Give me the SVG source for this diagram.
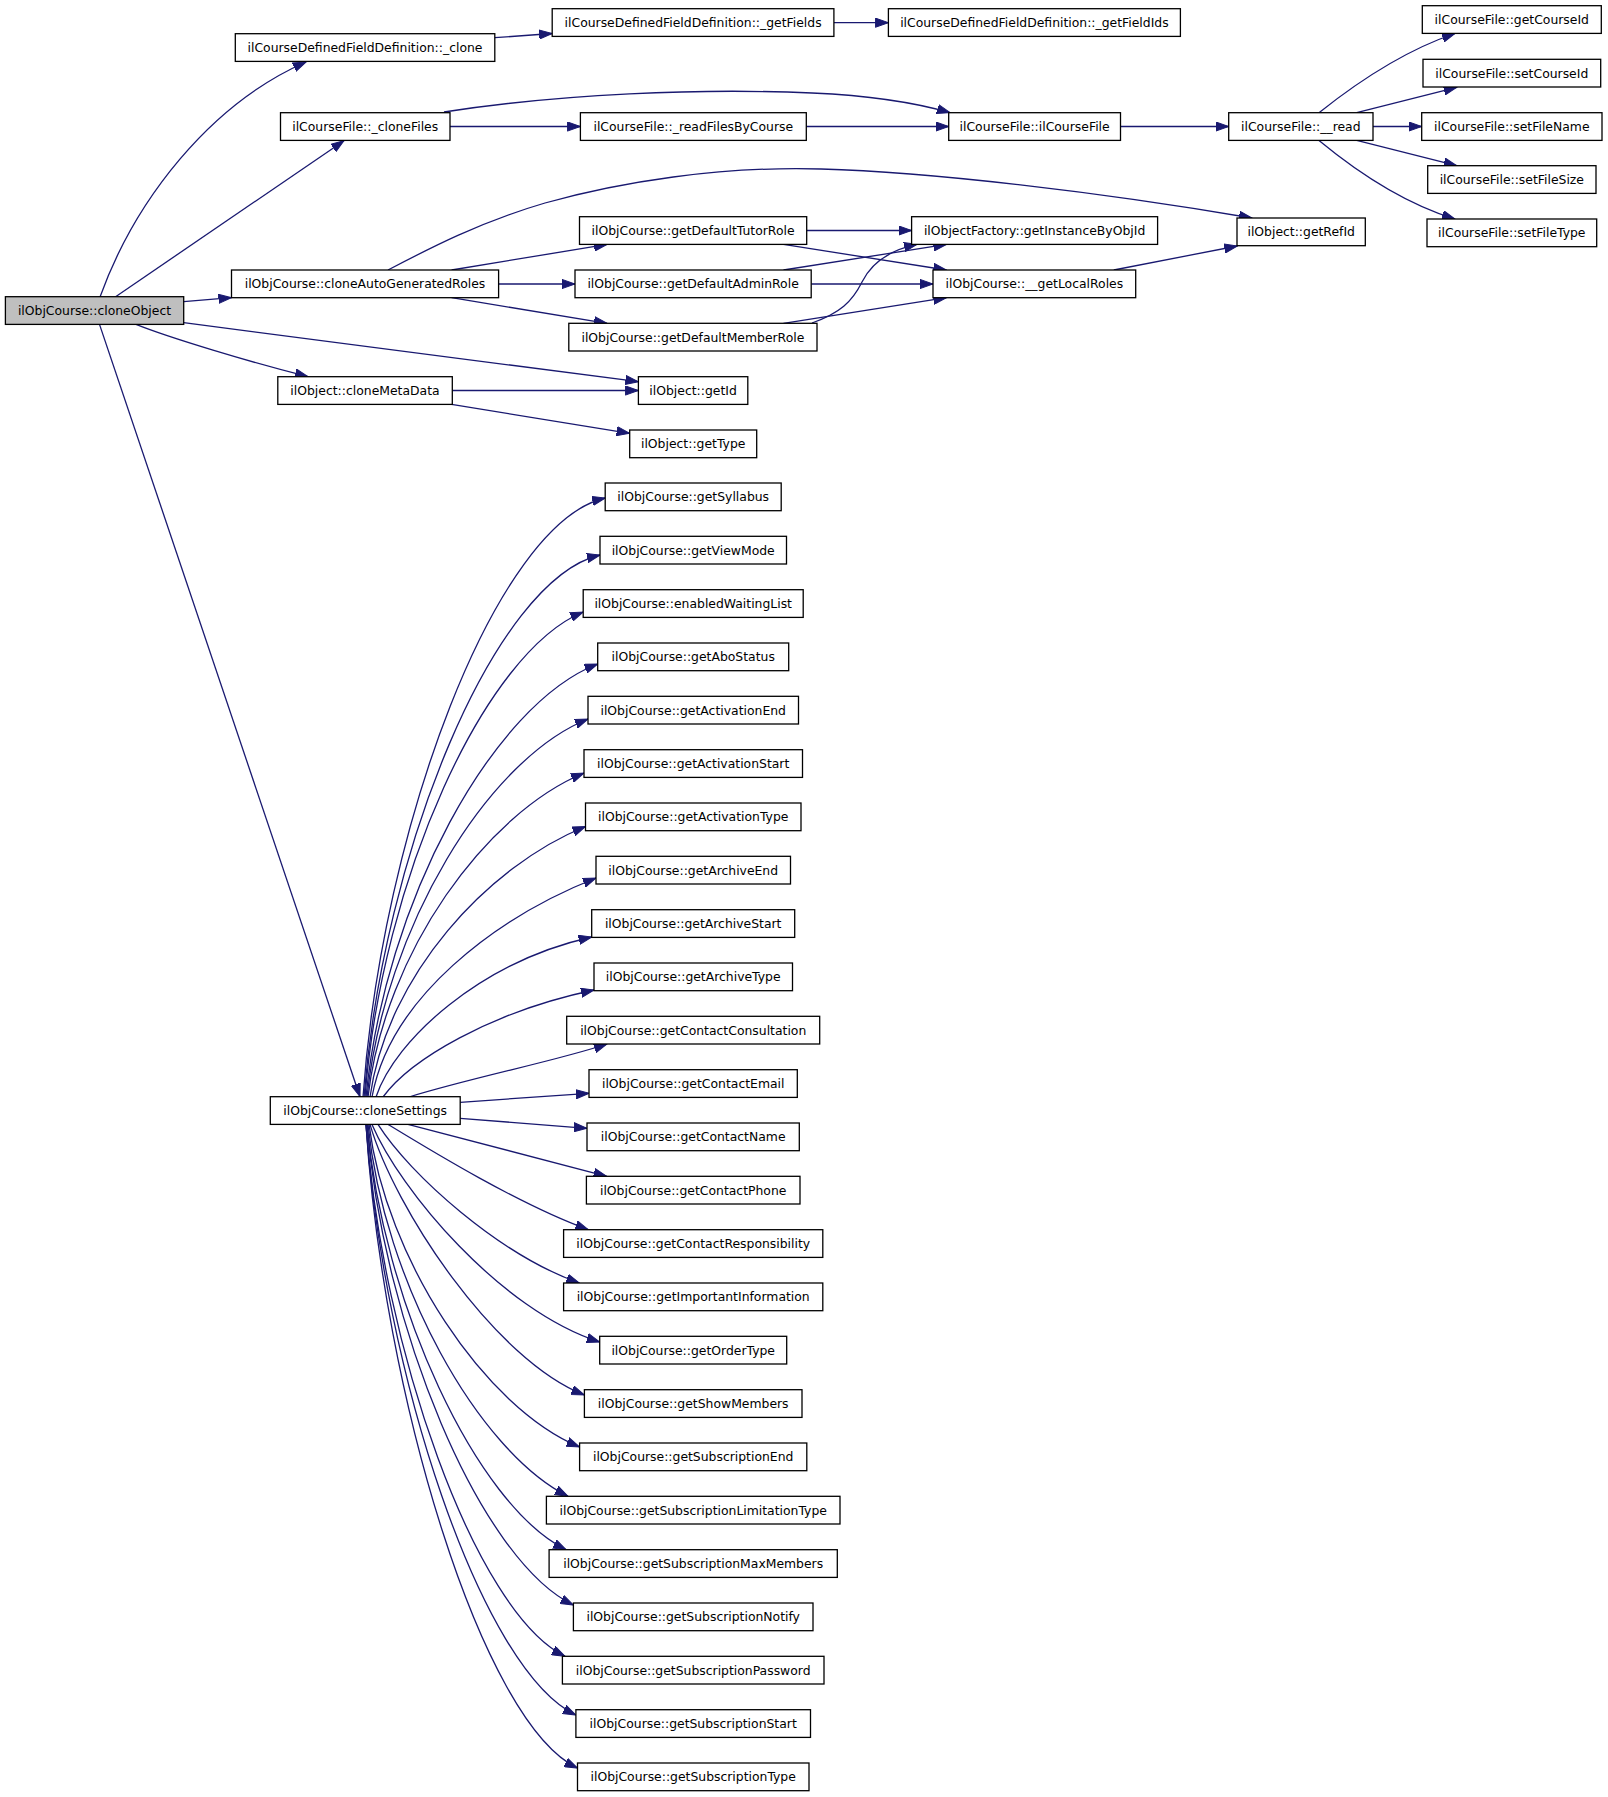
<svg xmlns="http://www.w3.org/2000/svg" width="1608" height="1797" viewBox="0 0 1608 1797">
<defs>
<style>
.node rect{fill:#ffffff;stroke:#000000;stroke-width:1.3}
.node.root rect{fill:#bfbfbf}
.node text{font-family:"DejaVu Sans","Liberation Sans",sans-serif;font-size:12.4px;text-anchor:middle;fill:#000000}
.edges path{fill:none;stroke:#191970;stroke-width:1.3;marker-end:url(#arr)}
</style>
<marker id="arr" markerUnits="userSpaceOnUse" markerWidth="14" markerHeight="10" refX="13" refY="5" orient="auto" viewBox="0 0 14 10">
<path d="M0,0.4 L13,5 L0,9.6 z" fill="#191970" stroke="#191970" stroke-width="1"/>
</marker>
</defs>
<rect width="1608" height="1797" fill="#ffffff"/>
<g id="connectors" class="edges">
<path d="M100,297 C135,200 210,104 306,62"/>
<path d="M115.6,296.7 L344,140.7"/>
<path d="M183.7,301.7 L231.5,297.7"/>
<path d="M183.7,322.7 L638.4,381.7"/>
<path d="M136,324.4 C170,338 250,362 308,376.7"/>
<path d="M99.5,324.4 L360,1096.7"/>
<path d="M494.8,37.7 L552.2,33.5"/>
<path d="M833.9,22.7 L888.4,22.7"/>
<path d="M444,112 C560,94 700,88 812,93 C880,96 920,104 950,112.7"/>
<path d="M450,126.5 L580.4,126.5"/>
<path d="M806.3,126.5 L948.7,126.5"/>
<path d="M1120.5,126.5 L1228.7,126.5"/>
<path d="M1319,112.7 C1350,88 1400,52 1455,33.5"/>
<path d="M1356.7,112.7 L1456.7,87.3"/>
<path d="M1373,126.5 L1421.7,126.5"/>
<path d="M1356.7,140.4 L1456.7,165.7"/>
<path d="M1319,140.4 C1350,166 1400,202 1455,219"/>
<path d="M388,270 C430,248 480,222 545,203 C620,182 720,166 821,169 C930,172 1100,192 1252,218"/>
<path d="M451.6,270 L607,244.4"/>
<path d="M498.6,284 L575,284"/>
<path d="M451.6,297.7 L607,323.3"/>
<path d="M806.7,230.5 L911.6,230.5"/>
<path d="M783.5,244.4 L946.4,270"/>
<path d="M783.5,270 L946.4,244.4"/>
<path d="M811.2,284 L933,284"/>
<path d="M812,323 C840,313 852,302 862,282 C872,262 890,250 917,244.4"/>
<path d="M783.5,323.3 L946.4,297.7"/>
<path d="M1113.8,270 L1237.3,246"/>
<path d="M452.3,390.5 L638.4,390.5"/>
<path d="M451.6,404.4 L629.7,433.3"/>
<path d="M363,1097 C382,828 496,523 605.2,498"/>
<path d="M364,1097 C383,853 494,580 600,555"/>
<path d="M365,1097 C382,879 485,652 583.2,612"/>
<path d="M366,1097 C385,902 493,704 597.7,664"/>
<path d="M367,1097 C385,927 488,759 588,719"/>
<path d="M368,1097 C385,951 487,813 584,773"/>
<path d="M370,1097 C387,975 488,866 585.5,826.5"/>
<path d="M372,1097 C390,998 495,918 596,878"/>
<path d="M376,1097 C395,1040 480,962 591.7,937"/>
<path d="M383,1097 C410,1060 490,1012 594,990"/>
<path d="M409,1097 C470,1078 560,1060 607,1044"/>
<path d="M460.2,1102.3 L589,1093.3"/>
<path d="M460.2,1118.3 L587,1128.3"/>
<path d="M408,1124.4 L606.7,1176.3"/>
<path d="M388,1124.4 C430,1150 520,1205 588.3,1229.7"/>
<path d="M378,1124.4 C410,1175 500,1255 579.3,1283"/>
<path d="M372,1124.4 C400,1190 500,1310 599.7,1342"/>
<path d="M370,1124.4 C395,1210 495,1360 584.4,1395"/>
<path d="M369,1124.4 C386,1260 485,1408 579.6,1447"/>
<path d="M368,1124.4 C384,1282 478,1451 568,1496.3"/>
<path d="M367,1124.4 C383,1303 476,1505 566,1549.7"/>
<path d="M367,1124.4 C383,1326 480,1560 573.4,1605"/>
<path d="M366,1124.4 C382,1348 475,1612 565,1656.3"/>
<path d="M366,1124.4 C383,1372 481,1670 575.9,1715"/>
<path d="M366,1124.4 C383,1395 482,1723 577.5,1768"/>
</g>
<g id="n_cloneObject" class="node root"><rect x="5.4" y="296.7" width="178.3" height="27.7"/><text x="94.5" y="315">ilObjCourse::cloneObject</text></g>
<g id="n_clone" class="node"><rect x="235.3" y="33.7" width="259.5" height="27.7"/><text x="365" y="52">ilCourseDefinedFieldDefinition::_clone</text></g>
<g id="n_cloneFiles" class="node"><rect x="280.5" y="112.7" width="169.5" height="27.7"/><text x="365.2" y="131">ilCourseFile::_cloneFiles</text></g>
<g id="n_cloneAutoGeneratedRoles" class="node"><rect x="231.5" y="270" width="267.1" height="27.7"/><text x="365" y="288.3">ilObjCourse::cloneAutoGeneratedRoles</text></g>
<g id="n_cloneMetaData" class="node"><rect x="277.8" y="376.7" width="174.5" height="27.7"/><text x="365" y="395">ilObject::cloneMetaData</text></g>
<g id="n_cloneSettings" class="node"><rect x="270.3" y="1096.7" width="189.9" height="27.7"/><text x="365.2" y="1115">ilObjCourse::cloneSettings</text></g>
<g id="n_getFields" class="node"><rect x="552.2" y="8.7" width="281.7" height="27.7"/><text x="693.1" y="27">ilCourseDefinedFieldDefinition::_getFields</text></g>
<g id="n_getFieldIds" class="node"><rect x="888.4" y="8.7" width="292" height="27.7"/><text x="1034.4" y="27">ilCourseDefinedFieldDefinition::_getFieldIds</text></g>
<g id="n_readFilesByCourse" class="node"><rect x="580.4" y="112.7" width="225.9" height="27.7"/><text x="693.3" y="131">ilCourseFile::_readFilesByCourse</text></g>
<g id="n_ilCourseFile" class="node"><rect x="948.7" y="112.7" width="171.8" height="27.7"/><text x="1034.6" y="131">ilCourseFile::ilCourseFile</text></g>
<g id="n_read" class="node"><rect x="1228.7" y="112.7" width="144.3" height="27.7"/><text x="1300.8" y="131">ilCourseFile::__read</text></g>
<g id="n_getCourseId" class="node"><rect x="1422.3" y="5.7" width="179" height="27.7"/><text x="1511.8" y="24">ilCourseFile::getCourseId</text></g>
<g id="n_setCourseId" class="node"><rect x="1423" y="59.3" width="177.7" height="27.7"/><text x="1511.8" y="77.6">ilCourseFile::setCourseId</text></g>
<g id="n_setFileName" class="node"><rect x="1421.7" y="112.7" width="180.3" height="27.7"/><text x="1511.8" y="131">ilCourseFile::setFileName</text></g>
<g id="n_setFileSize" class="node"><rect x="1427.7" y="165.7" width="168.3" height="27.7"/><text x="1511.8" y="184">ilCourseFile::setFileSize</text></g>
<g id="n_setFileType" class="node"><rect x="1427" y="219" width="169.7" height="27.7"/><text x="1511.8" y="237.3">ilCourseFile::setFileType</text></g>
<g id="n_getDefaultTutorRole" class="node"><rect x="579.5" y="216.7" width="227.2" height="27.7"/><text x="693.1" y="235">ilObjCourse::getDefaultTutorRole</text></g>
<g id="n_getInstanceByObjId" class="node"><rect x="911.6" y="216.7" width="246" height="27.7"/><text x="1034.6" y="235">ilObjectFactory::getInstanceByObjId</text></g>
<g id="n_getDefaultAdminRole" class="node"><rect x="575" y="270" width="236.2" height="27.7"/><text x="693.1" y="288.3">ilObjCourse::getDefaultAdminRole</text></g>
<g id="n_getLocalRoles" class="node"><rect x="933" y="270" width="202.7" height="27.7"/><text x="1034.4" y="288.3">ilObjCourse::__getLocalRoles</text></g>
<g id="n_getDefaultMemberRole" class="node"><rect x="568.8" y="323.3" width="248.2" height="27.7"/><text x="692.9" y="341.6">ilObjCourse::getDefaultMemberRole</text></g>
<g id="n_getRefId" class="node"><rect x="1237" y="218" width="128.3" height="27.7"/><text x="1301.2" y="236.3">ilObject::getRefId</text></g>
<g id="n_getId" class="node"><rect x="638.4" y="376.7" width="109.4" height="27.7"/><text x="693.1" y="395">ilObject::getId</text></g>
<g id="n_getType" class="node"><rect x="629.7" y="430" width="127" height="27.7"/><text x="693.2" y="448.3">ilObject::getType</text></g>
<g id="n_getSyllabus" class="node"><rect x="605.2" y="483" width="176" height="27.7"/><text x="693.2" y="501.3">ilObjCourse::getSyllabus</text></g>
<g id="n_getViewMode" class="node"><rect x="600" y="536.3" width="186.5" height="27.7"/><text x="693.2" y="554.6">ilObjCourse::getViewMode</text></g>
<g id="n_enabledWaitingList" class="node"><rect x="583.2" y="589.7" width="220" height="27.7"/><text x="693.2" y="608">ilObjCourse::enabledWaitingList</text></g>
<g id="n_getAboStatus" class="node"><rect x="597.7" y="643" width="191" height="27.7"/><text x="693.2" y="661.3">ilObjCourse::getAboStatus</text></g>
<g id="n_getActivationEnd" class="node"><rect x="588" y="696.3" width="210.5" height="27.7"/><text x="693.2" y="714.6">ilObjCourse::getActivationEnd</text></g>
<g id="n_getActivationStart" class="node"><rect x="584" y="749.7" width="218.5" height="27.7"/><text x="693.2" y="768">ilObjCourse::getActivationStart</text></g>
<g id="n_getActivationType" class="node"><rect x="585.5" y="803" width="215.5" height="27.7"/><text x="693.2" y="821.3">ilObjCourse::getActivationType</text></g>
<g id="n_getArchiveEnd" class="node"><rect x="596" y="856.3" width="194.5" height="27.7"/><text x="693.2" y="874.6">ilObjCourse::getArchiveEnd</text></g>
<g id="n_getArchiveStart" class="node"><rect x="591.7" y="909.7" width="203" height="27.7"/><text x="693.2" y="928">ilObjCourse::getArchiveStart</text></g>
<g id="n_getArchiveType" class="node"><rect x="594" y="963" width="198.5" height="27.7"/><text x="693.2" y="981.3">ilObjCourse::getArchiveType</text></g>
<g id="n_getContactConsultation" class="node"><rect x="566.7" y="1016.3" width="253" height="27.7"/><text x="693.2" y="1034.6">ilObjCourse::getContactConsultation</text></g>
<g id="n_getContactEmail" class="node"><rect x="589" y="1069.7" width="208.3" height="27.7"/><text x="693.2" y="1088">ilObjCourse::getContactEmail</text></g>
<g id="n_getContactName" class="node"><rect x="587" y="1123" width="212.3" height="27.7"/><text x="693.2" y="1141.3">ilObjCourse::getContactName</text></g>
<g id="n_getContactPhone" class="node"><rect x="586.4" y="1176.3" width="213.6" height="27.7"/><text x="693.2" y="1194.6">ilObjCourse::getContactPhone</text></g>
<g id="n_getContactResponsibility" class="node"><rect x="563.6" y="1229.7" width="259.2" height="27.7"/><text x="693.2" y="1248">ilObjCourse::getContactResponsibility</text></g>
<g id="n_getImportantInformation" class="node"><rect x="563.6" y="1283" width="259.2" height="27.7"/><text x="693.2" y="1301.3">ilObjCourse::getImportantInformation</text></g>
<g id="n_getOrderType" class="node"><rect x="599.7" y="1336.3" width="187" height="27.7"/><text x="693.2" y="1354.6">ilObjCourse::getOrderType</text></g>
<g id="n_getShowMembers" class="node"><rect x="584.4" y="1389.7" width="217.6" height="27.7"/><text x="693.2" y="1408">ilObjCourse::getShowMembers</text></g>
<g id="n_getSubscriptionEnd" class="node"><rect x="579.6" y="1443" width="227.2" height="27.7"/><text x="693.2" y="1461.3">ilObjCourse::getSubscriptionEnd</text></g>
<g id="n_getSubscriptionLimitationType" class="node"><rect x="546.4" y="1496.3" width="293.6" height="27.7"/><text x="693.2" y="1514.6">ilObjCourse::getSubscriptionLimitationType</text></g>
<g id="n_getSubscriptionMaxMembers" class="node"><rect x="549.1" y="1549.7" width="288.2" height="27.7"/><text x="693.2" y="1568">ilObjCourse::getSubscriptionMaxMembers</text></g>
<g id="n_getSubscriptionNotify" class="node"><rect x="573.4" y="1603" width="239.6" height="27.7"/><text x="693.2" y="1621.3">ilObjCourse::getSubscriptionNotify</text></g>
<g id="n_getSubscriptionPassword" class="node"><rect x="562.4" y="1656.3" width="261.6" height="27.7"/><text x="693.2" y="1674.6">ilObjCourse::getSubscriptionPassword</text></g>
<g id="n_getSubscriptionStart" class="node"><rect x="575.9" y="1709.7" width="234.6" height="27.7"/><text x="693.2" y="1728">ilObjCourse::getSubscriptionStart</text></g>
<g id="n_getSubscriptionType" class="node"><rect x="577.5" y="1763" width="231.5" height="27.7"/><text x="693.2" y="1781.3">ilObjCourse::getSubscriptionType</text></g>
</svg>
